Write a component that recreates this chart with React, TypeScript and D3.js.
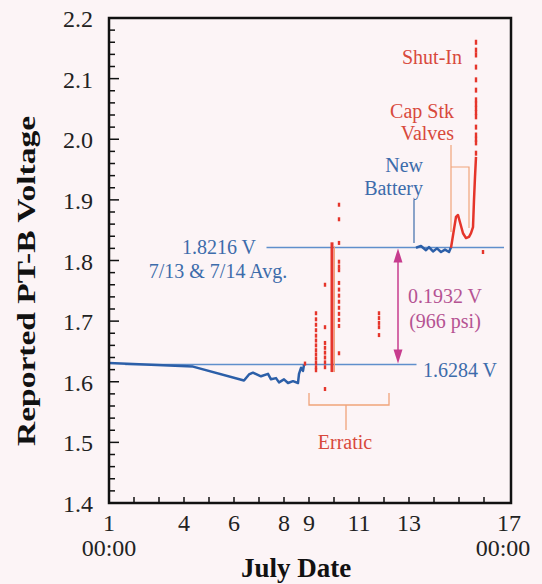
import * as d3 from "d3";

// blue trace before the erratic period (day, volts)
const blueEarlyDays = [1, 4.36, 6.4, 6.6, 6.76, 7.08, 7.36, 7.48, 7.68, 7.8, 8.0, 8.16, 8.36, 8.56, 8.6, 8.68, 8.76, 8.8];
const blueEarlyVals = [1.631, 1.625, 1.602, 1.612, 1.615, 1.609, 1.613, 1.604, 1.606, 1.599, 1.604, 1.598, 1.601, 1.598, 1.613, 1.623, 1.618, 1.628];

// blue trace after the new battery
const blueLateDays = [13.28, 13.48, 13.68, 13.8, 13.96, 14.12, 14.28, 14.44, 14.6, 14.68];
const blueLateVals = [1.821, 1.824, 1.817, 1.822, 1.815, 1.820, 1.814, 1.818, 1.814, 1.822];

// red trace after cap stack valves
const redLateDays = [14.68, 14.88, 14.96, 15.16, 15.28, 15.4, 15.48, 15.56, 15.6, 15.64, 15.68];
const redLateVals = [1.821, 1.872, 1.875, 1.845, 1.837, 1.839, 1.845, 1.855, 1.9, 1.938, 1.971];

// shut-in samples
const shutInDay = 15.68;
const shutInVals = [2.16, 2.147, 2.139, 2.119, 2.098, 2.081, 2.065, 2.058, 2.051, 2.044, 2.037, 2.02, 2.007, 2.0, 1.994, 1.977];

// erratic samples, day / volts
const erraticDays = [
  9.28, 9.28, 9.28, 9.28, 9.28, 9.28, 9.28, 9.28, 9.28, 9.28, 9.28, 9.28, 9.28,
  9.64, 9.64, 9.64, 9.64, 9.64, 9.64, 9.64, 9.64, 9.64,
  10.2, 10.2, 10.2, 10.2, 10.2, 10.2, 10.2, 10.2, 10.2, 10.2, 10.2, 10.2, 10.2, 10.2, 10.2,
  11.8, 11.8, 11.8, 11.8, 11.8,
  8.84, 15.96,
];
const erraticVals = [
  1.713, 1.703, 1.694, 1.685, 1.676, 1.668, 1.66, 1.652, 1.645, 1.638, 1.631, 1.624, 1.619,
  1.76, 1.69, 1.664, 1.656, 1.648, 1.64, 1.632, 1.624, 1.588,
  1.892, 1.868, 1.829, 1.798, 1.79, 1.784, 1.763, 1.752, 1.742, 1.732, 1.722, 1.712, 1.702, 1.692, 1.647,
  1.713, 1.705, 1.697, 1.69, 1.677,
  1.63, 1.814,
];

// solid erratic spike
const spikeDay = 9.92;
const spikeVals = [1.616, 1.83];

const avgBefore = 1.6284;
const avgAfter = 1.8216;

const yTicks = [1.4, 1.5, 1.6, 1.7, 1.8, 1.9, 2.0, 2.1, 2.2];
const xTickLabels = [1, 4, 6, 8, 9, 11, 13, 17];

const BLUE = "#2c5fa8";
const LINE_BLUE = "#5f8fcc";
const TEXT_BLUE = "#3d6cab";
const RED = "#e5352b";
const TEXT_RED = "#d8493c";
const ORANGE = "#f0a47a";
const MAGENTA = "#c73c8e";
const TEXT_MAGENTA = "#b55393";
const FONT = "'Liberation Serif', 'Times New Roman', serif";

export default function App() {
  const width = 542;
  const height = 584;
  const left = 109;
  const right = 511;
  const top = 18;
  const bottom = 503;

  const x = d3.scaleLinear().domain([1, 17]).range([left, right - 2]);
  const y = d3.scaleLinear().domain([1.4, 2.2]).range([bottom, top]);

  const line = d3
    .line<[number, number]>()
    .x((d) => x(d[0]))
    .y((d) => y(d[1]));

  const blueEarly = blueEarlyDays.map((d, i) => [d, blueEarlyVals[i]] as [number, number]);
  const blueLate = blueLateDays.map((d, i) => [d, blueLateVals[i]] as [number, number]);
  const redLate = redLateDays.map((d, i) => [d, redLateVals[i]] as [number, number]);

  const minorTicks = d3.range(1.4, 2.2001, 0.02);
  const dayTicks = d3.range(2, 17);

  const arrowX = x(12.56);

  return (
    <svg width={width} height={height} style={{ display: "block", position: "absolute", left: 0, top: 0 }} fontFamily={FONT}>
      <rect width={width} height={height} fill="#fcf4f6" />

      {/* reference lines */}
      <line x1={x(1.65)} x2={x(13.3)} y1={y(avgBefore)} y2={y(avgBefore)} stroke={LINE_BLUE} strokeWidth={1.5} />
      <line x1={x(7.3)} x2={x(16.8)} y1={y(avgAfter)} y2={y(avgAfter)} stroke={LINE_BLUE} strokeWidth={1.5} />

      {/* blue traces */}
      <path d={line(blueEarly) ?? ""} fill="none" stroke={BLUE} strokeWidth={2.5} strokeLinejoin="round" />
      <path d={line(blueLate) ?? ""} fill="none" stroke={BLUE} strokeWidth={2.5} strokeLinejoin="round" />

      {/* erratic spike */}
      <line x1={x(spikeDay)} x2={x(spikeDay)} y1={y(spikeVals[0])} y2={y(spikeVals[1])} stroke={RED} strokeWidth={3} />
      <line x1={x(spikeDay) + 2.5} x2={x(spikeDay) + 2.5} y1={y(spikeVals[0])} y2={y(spikeVals[1]) + 4} stroke={ORANGE} strokeWidth={1} />
      {erraticDays.map((d, i) => (
        <rect key={i} x={x(d) - 1.2} y={y(erraticVals[i]) - 2} width={2.4} height={4} fill={RED} />
      ))}

      {/* red late trace */}
      <path d={line(redLate) ?? ""} fill="none" stroke={RED} strokeWidth={2.5} strokeLinejoin="round" />
      {shutInVals.map((v, i) => (
        <rect key={i} x={x(shutInDay) - 1.2} y={y(v) - 2.5} width={2.4} height={5} fill={RED} />
      ))}

      {/* magenta difference arrow */}
      <line x1={arrowX} x2={arrowX} y1={y(avgAfter) + 8} y2={y(avgBefore) - 8} stroke={MAGENTA} strokeWidth={1.5} />
      <path d={`M${arrowX},${y(avgAfter) + 1} l-4.5,14 l9,0 z`} fill={MAGENTA} />
      <path d={`M${arrowX},${y(avgBefore) - 1} l-4.5,-14 l9,0 z`} fill={MAGENTA} />

      {/* annotation connectors */}
      <path d={`M${x(9)},393 V405 H${x(12.2)} V393 M${x(10.48)},405 V430`} fill="none" stroke={ORANGE} strokeWidth={1.3} />
      <path d={`M${x(14.68)},145 V232 M${x(14.68)},167 H${x(15.4)} V228`} fill="none" stroke={ORANGE} strokeWidth={1.2} />
      <line x1={x(13.2)} x2={x(13.2)} y1={200} y2={243} stroke={TEXT_BLUE} strokeWidth={1.2} />

      {/* annotation texts */}
      <g fontSize={20}>
        <text x={219} y={254} textAnchor="middle" fill={TEXT_BLUE}>1.8216 V</text>
        <text x={218} y={278} textAnchor="middle" fill={TEXT_BLUE}>7/13 &amp; 7/14 Avg.</text>
        <text x={460} y={377} textAnchor="middle" fill={TEXT_BLUE}>1.6284 V</text>
        <text x={445} y={303} textAnchor="middle" fill={TEXT_MAGENTA}>0.1932 V</text>
        <text x={445} y={328} textAnchor="middle" fill={TEXT_MAGENTA}>(966 psi)</text>
        <text x={345} y={449} textAnchor="middle" fill={TEXT_RED}>Erratic</text>
        <text x={462} y={64} textAnchor="end" fill={TEXT_RED}>Shut-In</text>
        <text x={454} y={118} textAnchor="end" fill={TEXT_RED}>Cap Stk</text>
        <text x={454} y={140} textAnchor="end" fill={TEXT_RED}>Valves</text>
        <text x={423} y={172} textAnchor="end" fill={TEXT_BLUE}>New</text>
        <text x={423} y={195} textAnchor="end" fill={TEXT_BLUE}>Battery</text>
      </g>

      {/* frame and ticks */}
      <rect x={left} y={top} width={right - left} height={bottom - top} fill="none" stroke="#111" strokeWidth={2.5} />
      {minorTicks.map((t, i) => (
        <line key={i} x1={left} x2={left + (i % 5 === 0 ? 10 : 6)} y1={y(t)} y2={y(t)} stroke="#111" strokeWidth={1.5} />
      ))}
      {dayTicks.map((t) => (
        <line key={t} x1={x(t)} x2={x(t)} y1={bottom} y2={bottom - 6} stroke="#111" strokeWidth={1.5} />
      ))}

      <g fontSize={24} fill="#222">
        {yTicks.map((t) => (
          <text key={t} x={93} y={y(t) + 9} textAnchor="end">{d3.format(".1f")(t)}</text>
        ))}
        {xTickLabels.map((t) => (
          <text key={t} x={x(t)} y={531} textAnchor="middle">{t}</text>
        ))}
        <text x={x(1)} y={556} textAnchor="middle">00:00</text>
        <text x={x(17) - 6} y={556} textAnchor="middle">00:00</text>
      </g>

      <text x={296} y={577} textAnchor="middle" fontSize={27} fontWeight="bold" fill="#111">July Date</text>
      <text
        transform="translate(35,281) rotate(-90)"
        textAnchor="middle"
        fontSize={26}
        fontWeight="bold"
        fill="#111"
        textLength={330}
        lengthAdjust="spacingAndGlyphs"
      >
        Reported PT-B Voltage
      </text>
    </svg>
  );
}
